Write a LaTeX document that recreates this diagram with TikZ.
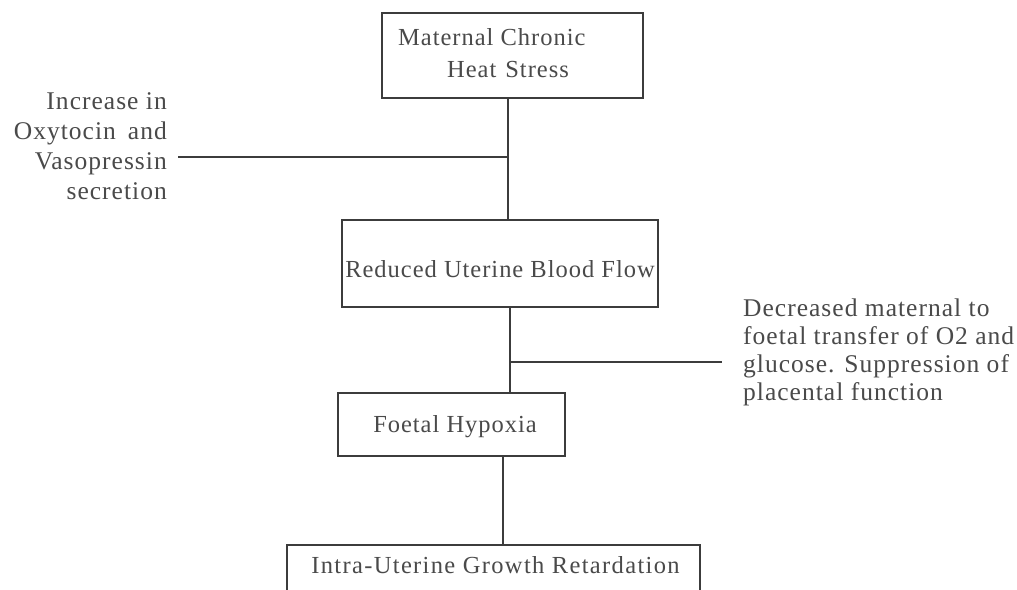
\documentclass[tikz,border=0pt]{standalone}
\usepackage{fontspec}
\setmainfont{Liberation Serif}[LetterSpace=4]
\definecolor{ink}{HTML}{4A4A4A}
\definecolor{edge}{HTML}{3C3C3C}
\begin{document}
\begin{tikzpicture}[x=1pt,y=-1pt,
  box/.style={draw=edge, line width=1.4pt, inner sep=0pt, fill=none},
  txt/.style={text=ink, inner sep=0pt, font=\fontsize{24.5}{30}\selectfont},
  link/.style={draw=edge, line width=1.4pt}]
\useasboundingbox (0,0) rectangle (1017,589);
\fill[white] (0,0) rectangle (1017,589);
\clip (0,0) rectangle (1017,589);
% boxes
\node[box, minimum width=261pt, minimum height=85pt] (b1) at (512.5,55.5) {};
\node[box, minimum width=316pt, minimum height=87pt] (b2) at (500,263.5) {};
\node[box, minimum width=227pt, minimum height=63pt] (b3) at (451.5,424.5) {};
\node[box, minimum width=413pt, minimum height=60pt] (b4) at (493.5,575) {};
% box texts (base anchor = baseline of last line)
\node[txt, anchor=base west, align=left, font=\fontsize{24.5}{32}\selectfont] (t1) at (398,77)
  {Maternal Chronic\\\hspace*{49pt}Heat\hspace{9pt}Stress};
\node[txt, anchor=base] (t2) at (500,277) {Reduced Uterine Blood Flow};
\node[txt, anchor=base] (t3) at (455,432) {Foetal Hypoxia};
\node[txt, anchor=base, font=\fontsize{24.5}{30}\selectfont\addfontfeatures{LetterSpace=5.5}] (t4) at (495.5,573) {Intra-Uterine Growth Retardation};
% side texts
\node[txt, anchor=base east, align=right, font=\fontsize{25.5}{30}\selectfont] (ls) at (167,199)
  {Increase in\\Oxytocin\hspace{12pt}and\\Vasopressin\\secretion};
\node[txt, anchor=base west, align=left, font=\fontsize{25.5}{28}\selectfont] (rs) at (743,400)
  {Decreased maternal to\\foetal transfer of O2 and\\glucose. Suppression of\\placental function};
% junction coordinates
\coordinate (j1) at (508,157);
\coordinate (e1) at (178,157);
\coordinate (j2) at (510,362);
\coordinate (e2) at (722,362);
\coordinate (j3) at (503,500);
% connectors
\draw[link] (b1.south -| j1) -- (b2.north -| j1);
\draw[link] (e1) -- (j1);
\draw[link] (b2.south -| j2) -- (b3.north -| j2);
\draw[link] (j2) -- (e2);
\draw[link] (b3.south -| j3) -- (b4.north -| j3);
\end{tikzpicture}
\end{document}
